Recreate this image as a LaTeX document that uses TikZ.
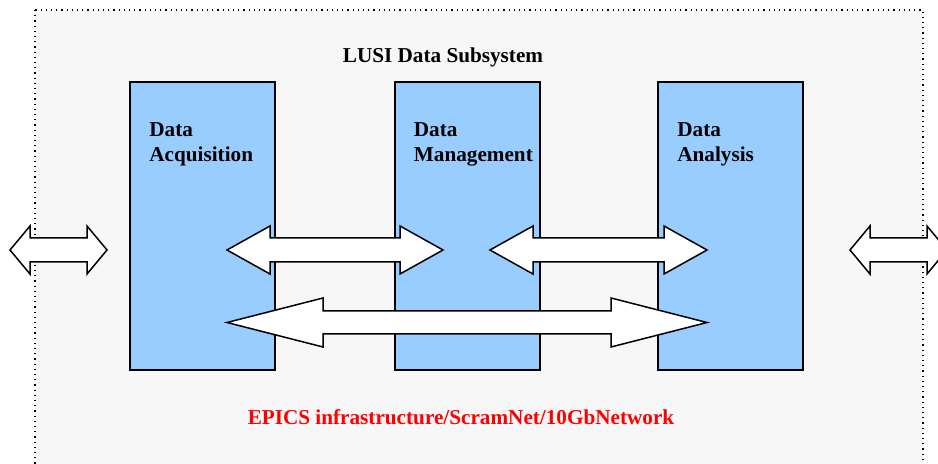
\documentclass[tikz,border=0pt]{standalone}
\usepackage{fontspec}
\setmainfont{Liberation Serif}
\usetikzlibrary{calc,positioning}
\definecolor{boxB}{RGB}{153,204,255}
\definecolor{bgG}{RGB}{247,247,247}
\definecolor{netR}{RGB}{255,0,0}
% block double arrow: left tip, right tip, y, head length, half head, half shaft
\newcommand{\dblarrow}[6]{%
  \draw[barrow] (#1,#3) -- (#1+#4,#3-#5) -- (#1+#4,#3-#6) -- (#2-#4,#3-#6) -- (#2-#4,#3-#5)
    -- (#2,#3) -- (#2-#4,#3+#5) -- (#2-#4,#3+#6) -- (#1+#4,#3+#6) -- (#1+#4,#3+#5) -- cycle;}

\begin{document}
\begin{tikzpicture}[x=0.5pt,y=-0.5pt,
  blk/.style={draw,fill=boxB,line width=1pt,minimum width=72.5pt,minimum height=144pt,inner sep=0pt},
  lbl/.style={font=\fontsize{10.6}{12.4}\selectfont\bfseries,align=left,anchor=north west,inner sep=0pt},
  ttl/.style={font=\fontsize{10.6}{12.4}\selectfont\bfseries,inner sep=0pt},
  barrow/.style={draw,fill=white,line width=0.75pt,line join=miter}]
\clip (0,0) rectangle (938,464);
\draw[dotted,line width=0.6pt,fill=bgG] (35,10) rectangle (923,480);
\node[ttl] (title) at (443,57) {LUSI Data Subsystem};
\node[blk] (acq) at (202.5,226) {};
\node[blk] (mgmt) at (467,226) {};
\node[blk] (ana) at (730.5,226) {};
\node[lbl] at ($(acq.north west)+(20,41)$) {Data\\Acquisition};
\node[lbl] at ($(mgmt.north west)+(20,41)$) {Data\\Management};
\node[lbl] at ($(ana.north west)+(20,41)$) {Data\\Analysis};
% links
\dblarrow{10}{107}{250}{20}{24}{12}
\dblarrow{850}{947}{250}{20}{24}{12}
\dblarrow{227}{443}{250}{43}{24}{12}
\dblarrow{490}{707}{250}{43}{24}{12}
\dblarrow{227}{707}{322.5}{96}{24.5}{11.5}
\node[ttl,text=netR] (net) at (461,417) {EPICS infrastructure/ScramNet/10GbNetwork};
\end{tikzpicture}
\end{document}
